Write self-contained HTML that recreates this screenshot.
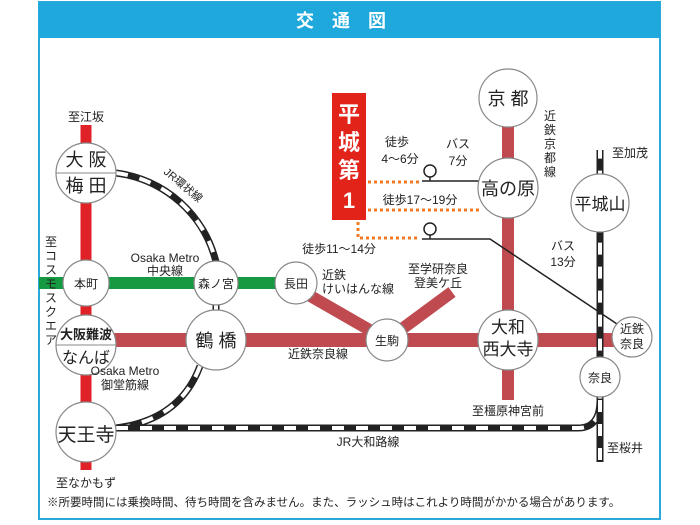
<!DOCTYPE html>
<html><head><meta charset="utf-8"><style>
html,body{margin:0;padding:0;background:#fff;}
svg{display:block;}
text{font-family:"Liberation Sans","Noto Sans CJK JP",sans-serif;fill:#222;}
</style></head><body>
<svg width="700" height="525" viewBox="0 0 700 525" xmlns="http://www.w3.org/2000/svg">
<rect x="39" y="2" width="621" height="517" fill="#fff" stroke="#29a9d9" stroke-width="2"/>
<rect x="39" y="2" width="621" height="36" fill="#1ea8dc"/>
<text x="350" y="27" font-size="18" font-weight="bold" text-anchor="middle" style="fill:#fff" letter-spacing="18">交通図</text>

<line x1="508" y1="110" x2="508" y2="400" stroke="#bf4b50" stroke-width="12"/>
<line x1="90" y1="340" x2="640" y2="340" stroke="#bf4b50" stroke-width="14"/>
<line x1="300" y1="290" x2="387" y2="340" stroke="#bf4b50" stroke-width="12"/>
<line x1="387" y1="340" x2="452" y2="292" stroke="#bf4b50" stroke-width="12"/>
<line x1="86" y1="125" x2="86" y2="470" stroke="#e02228" stroke-width="11"/>
<line x1="39" y1="283" x2="296" y2="283" stroke="#159a42" stroke-width="12"/>

<g fill="none">
<path d="M116,173 A118,118 0 0 1 216,262" stroke="#222" stroke-width="7"/>
<path d="M116,173 A118,118 0 0 1 216,262" stroke="#fff" stroke-width="4" stroke-dasharray="12 12"/>
<path d="M200,366 Q180,420 116,428" stroke="#222" stroke-width="7"/>
<path d="M200,366 Q180,420 116,428" stroke="#fff" stroke-width="4" stroke-dasharray="12 12"/>
<path d="M116,428 L578,428 Q600,428 600,400 L600,150" stroke="#222" stroke-width="7"/>
<path d="M116,428 L578,428 Q600,428 600,400 L600,150" stroke="#fff" stroke-width="4" stroke-dasharray="12 12"/>
<line x1="600" y1="400" x2="600" y2="462" stroke="#222" stroke-width="7"/>
<line x1="600" y1="400" x2="600" y2="462" stroke="#fff" stroke-width="4" stroke-dasharray="12 12"/>
<line x1="216" y1="300" x2="216" y2="315" stroke="#222" stroke-width="7"/>
<line x1="216" y1="300" x2="216" y2="315" stroke="#fff" stroke-width="4"/>
</g>

<line x1="438" y1="181" x2="480" y2="181" stroke="#222" stroke-width="1.5"/>
<polyline points="438,239 490,239 626,330" fill="none" stroke="#222" stroke-width="1.5"/>
<g stroke="#f07b22" stroke-width="3" stroke-dasharray="3 3" fill="none">
<line x1="368" y1="182" x2="420" y2="182"/>
<line x1="368" y1="210" x2="480" y2="210"/>
<polyline points="358,222 358,238 420,238"/>
</g>
<g fill="#fff" stroke="#222" stroke-width="1.5">
<circle cx="430" cy="171" r="6"/><line x1="430" y1="177" x2="430" y2="181"/><line x1="422" y1="181" x2="438" y2="181"/>
<circle cx="430" cy="229" r="6"/><line x1="430" y1="235" x2="430" y2="239"/><line x1="422" y1="239" x2="438" y2="239"/>
</g>

<g fill="#fff" stroke="#888" stroke-width="1.2">
<circle cx="86" cy="173" r="30"/>
<circle cx="86" cy="283" r="23"/>
<circle cx="86" cy="345" r="30"/>
<circle cx="86" cy="432" r="30"/>
<circle cx="216" cy="283" r="22"/>
<circle cx="296" cy="283" r="21"/>
<circle cx="216" cy="340" r="30"/>
<circle cx="387" cy="340" r="21"/>
<circle cx="508" cy="340" r="30"/>
<circle cx="632" cy="337" r="20"/>
<circle cx="600" cy="377" r="20"/>
<circle cx="508" cy="98" r="29"/>
<circle cx="508" cy="188" r="30"/>
<circle cx="600" cy="203" r="29"/>
</g>
<line x1="56" y1="173" x2="116" y2="173" stroke="#888" stroke-width="1"/>
<line x1="56" y1="345" x2="116" y2="345" stroke="#888" stroke-width="1"/>

<g font-size="18" text-anchor="middle">
<text x="86" y="166">大 阪</text><text x="86" y="192">梅 田</text>
<text x="86" y="441" font-size="19">天王寺</text>
<text x="216" y="347">鶴 橋</text>
<text x="508" y="105">京 都</text>
<text x="508" y="195">高の原</text>
<text x="600" y="210" font-size="17">平城山</text>
<text x="508" y="333" font-size="17">大和</text><text x="508" y="355" font-size="17">西大寺</text>
<text x="86" y="339" font-size="13" font-weight="bold">大阪難波</text><text x="86" y="363" font-size="16">なんば</text>
</g>
<g font-size="12" text-anchor="middle">
<text x="86" y="288">本町</text>
<text x="216" y="288">森ノ宮</text>
<text x="296" y="288">長田</text>
<text x="387" y="345">生駒</text>
<text x="632" y="333">近鉄</text><text x="632" y="348">奈良</text>
<text x="600" y="382">奈良</text>
</g>

<rect x="332" y="93" width="34" height="127" fill="#e2231a"/>
<g font-size="22" font-weight="bold" text-anchor="middle">
<text x="349" y="122" style="fill:#fff">平</text><text x="349" y="150" style="fill:#fff">城</text><text x="349" y="178" style="fill:#fff">第</text><text x="349" y="208" style="fill:#fff">1</text>
</g>

<g font-size="12" text-anchor="middle">
<text x="86" y="121">至江坂</text>
<text x="86" y="487">至なかもず</text>
<text x="165" y="262">Osaka Metro</text><text x="165" y="275">中央線</text>
<text x="125" y="375">Osaka Metro</text><text x="125" y="389">御堂筋線</text>
<text x="318" y="358">近鉄奈良線</text>
<text x="368" y="446">JR大和路線</text>
<text x="508" y="415">至橿原神宮前</text>
<text x="438" y="273">至学研奈良</text><text x="438" y="287">登美ケ丘</text>
<text x="339" y="253">徒歩11～14分</text>
<text x="397" y="146">徒歩</text><text x="400" y="163">4～6分</text>
<text x="458" y="148">バス</text><text x="458" y="165">7分</text>
<text x="420" y="204">徒歩17～19分</text>
<text x="563" y="250">バス</text><text x="563" y="266">13分</text>
<text x="630" y="157">至加茂</text>
<text x="625" y="452">至桜井</text>
</g>
<g font-size="12">
<text x="322" y="279">近鉄</text><text x="322" y="293">けいはんな線</text>
</g>
<g font-size="12" text-anchor="middle">
<text x="550" y="120">近</text><text x="550" y="134">鉄</text><text x="550" y="148">京</text><text x="550" y="162">都</text><text x="550" y="176">線</text>
<text x="51" y="246">至</text><text x="51" y="260">コ</text><text x="51" y="274">ス</text><text x="51" y="288">モ</text><text x="51" y="302">ス</text><text x="51" y="316">ク</text><text x="51" y="330">エ</text><text x="51" y="344">ア</text>
</g>
<text x="163" y="173" font-size="11" transform="rotate(40 163 173)">JR環状線</text>
<text x="47" y="506" font-size="11.5">※所要時間には乗換時間、待ち時間を含みません。また、ラッシュ時はこれより時間がかかる場合があります。</text>
</svg>
</body></html>
